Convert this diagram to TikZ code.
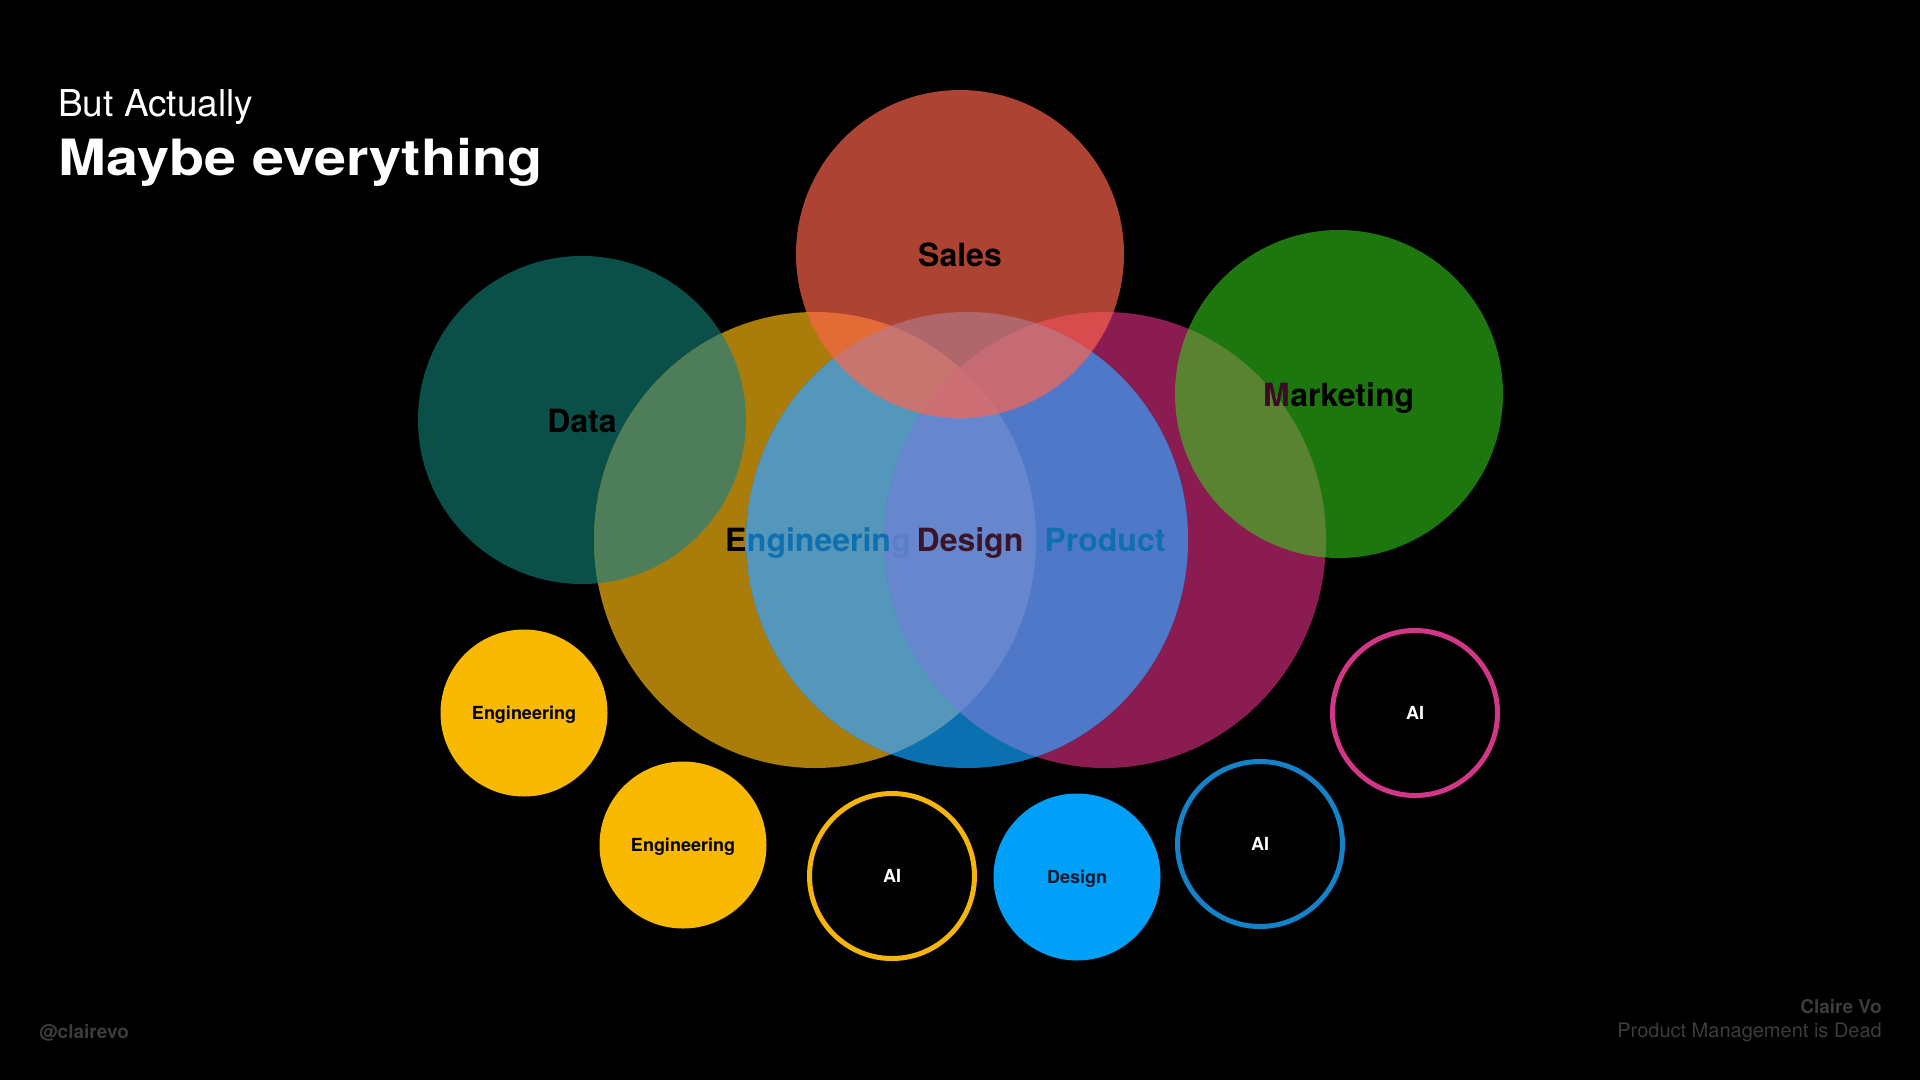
\documentclass[tikz,border=0pt]{standalone}
\usepackage{fontspec}
\setmainfont{TeX Gyre Heros}
\newfontfamily\widefont{TeX Gyre Heros}[FakeStretch=1.15]
\usetikzlibrary{positioning}
\definecolor{dataC}{RGB}{10,80,72}
\definecolor{engC}{RGB}{170,125,10}
\definecolor{desC}{RGB}{10,112,175}
\definecolor{prodC}{RGB}{138,28,82}
\definecolor{dataEngC}{RGB}{78,125,90}
\definecolor{engDesC}{RGB}{84,151,186}
\definecolor{desProdC}{RGB}{80,120,200}
\definecolor{tripC}{RGB}{102,135,206}
\definecolor{salesC}{RGB}{255,100,76}
\definecolor{mktC}{RGB}{53,210,25}
\definecolor{desTxt}{RGB}{14,112,176}
\definecolor{tripTxt}{RGB}{92,128,200}
\definecolor{desLblC}{RGB}{60,20,40}
\definecolor{mktProdTxt}{RGB}{59,12,35}
\definecolor{yel}{RGB}{249,185,0}
\definecolor{yelRing}{RGB}{245,181,10}
\definecolor{sky}{RGB}{0,160,248}
\definecolor{navy}{RGB}{8,26,46}
\definecolor{blueRing}{RGB}{20,130,200}
\definecolor{pinkRing}{RGB}{210,55,135}
\definecolor{footC}{RGB}{60,60,60}

\begin{document}
\begin{tikzpicture}[x=1pt,y=-1pt,
    lbl/.style={inner sep=0pt,anchor=base,font=\bfseries\fontsize{32}{38}\selectfont},
    piece/.style={lbl,anchor=base west},
    bub/.style={circle,minimum size=167pt,inner sep=0pt,text height=13pt,text depth=0pt,
      font=\bfseries\fontsize{18}{22}\selectfont},
    disc/.style={bub,fill=#1},
    ring/.style={bub,minimum size=165pt,draw=#1,line width=5pt,text=white},
    big/.style={x radius=221pt,y radius=228pt},
    side/.style={radius=164pt}]
  \useasboundingbox (0,0) rectangle (1920,1080);
  \fill[black] (0,0) rectangle (1920,1080);

  \coordinate (data) at (582,420);
  \coordinate (eng) at (815,540);
  \coordinate (des) at (967,540);
  \coordinate (prod) at (1105,540);
  \coordinate (sales) at (960,254);
  \coordinate (mkt) at (1339,394);

  % base fills
  \fill[dataC] (data) circle[side];
  \fill[engC] (eng) ellipse[big];
  \fill[prodC] (prod) ellipse[big];
  \fill[desC] (des) ellipse[big];

  % overlaps
  \begin{scope}
    \clip (data) circle[side];
    \fill[dataEngC] (eng) ellipse[big];
  \end{scope}
  \begin{scope}
    \clip (eng) ellipse[big];
    \fill[engDesC] (des) ellipse[big];
  \end{scope}
  \begin{scope}
    \clip (prod) ellipse[big];
    \fill[desProdC] (des) ellipse[big];
    \clip (eng) ellipse[big];
    \fill[tripC] (des) ellipse[big];
  \end{scope}

  \node[lbl] (dataLbl) at (582,432) {Data};
  \node[piece] (engE) at (725,551) {E};
  \node[piece,text=desTxt] (engMid) at (engE.base east) {ngineerin};
  \node[piece,text=tripTxt] (engEnd) at (engMid.base east) {g};
  \node[lbl,text=desLblC] (desLbl) at (970,551) {Design};
  \node[lbl,text=desTxt] (prodLbl) at (1105,551) {Product};

  % sales and marketing sit on top
  \fill[salesC,fill opacity=0.68] (sales) circle[side];
  \node[lbl] (salesLbl) at (960,266) {Sales};
  \fill[mktC,fill opacity=0.57] (mkt) circle[side];
  \node[piece,text=mktProdTxt] (mktM) at (1263,406) {M};
  \node[piece] (mktRest) at (mktM.base east) {arketing};

  % small bubbles
  \node[disc=yel] (engA) at (524,713) {Engineering};
  \node[disc=yel] (engB) at (683,845) {Engineering};
  \node[ring=yelRing] (aiA) at (892,876) {AI};
  \node[disc=sky,text=navy] (desA) at (1077,877) {Design};
  \node[ring=blueRing] (aiB) at (1260,844) {AI};
  \node[ring=pinkRing] (aiC) at (1415,713) {AI};

  % titles and footers
  \node[anchor=base west,inner sep=0pt,text=white,font=\fontsize{37}{44}\selectfont] (kicker) at (58,116) {But Actually};
  \node[anchor=base west,inner sep=0pt,text=white,font=\widefont\bfseries\fontsize{50}{60}\selectfont] (title) at (58,175) {Maybe everything};
  \node[anchor=base west,inner sep=0pt,text=footC,font=\bfseries\fontsize{19}{23}\selectfont] (handle) at (39,1038) {@clairevo};
  \node[anchor=base east,inner sep=0pt,text=footC,font=\bfseries\fontsize{19}{23}\selectfont] (author) at (1882,1013) {Claire Vo};
  \node[anchor=base east,inner sep=0pt,text=footC,font=\fontsize{20}{24}\selectfont] (talk) at (1882,1037) {Product Management is Dead};
\end{tikzpicture}
\end{document}
